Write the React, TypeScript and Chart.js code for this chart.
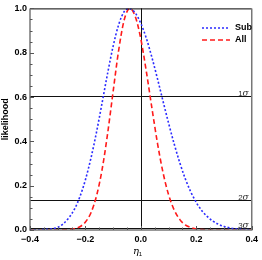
import React, { useEffect, useRef } from "react";
import { Chart, registerables } from "chart.js";
Chart.register(...registerables);

const eta = [-0.4, -0.38, -0.36, -0.34, -0.32, -0.3, -0.28, -0.26, -0.24, -0.22, -0.2, -0.18, -0.16, -0.14, -0.12, -0.1, -0.08, -0.06, -0.04, -0.02, 0, 0.02, 0.04, 0.06, 0.08, 0.1, 0.12, 0.14, 0.16, 0.18, 0.2, 0.22, 0.24, 0.26, 0.28, 0.3, 0.32, 0.34, 0.36, 0.38, 0.4];
const subLikelihood = [0.0002, 0.0005, 0.0013, 0.003, 0.006, 0.012, 0.028, 0.055, 0.093, 0.15, 0.227, 0.325, 0.442, 0.573, 0.707, 0.83, 0.927, 0.986, 0.999, 0.979, 0.932, 0.864, 0.778, 0.682, 0.581, 0.482, 0.389, 0.305, 0.232, 0.172, 0.124, 0.087, 0.06, 0.04, 0.026, 0.016, 0.0098, 0.0058, 0.0034, 0.0019, 0.001];
const allLikelihood = [0, 0, 0, 0, 0.0001, 0.0002, 0.0006, 0.0018, 0.0055, 0.0148, 0.036, 0.078, 0.154, 0.272, 0.435, 0.626, 0.812, 0.949, 1.0, 0.963, 0.861, 0.713, 0.549, 0.391, 0.259, 0.159, 0.091, 0.048, 0.023, 0.011, 0.0045, 0.0018, 0.0006, 0.0002, 0.0001, 0, 0, 0, 0, 0, 0];
const seriesNames = ["Sub", "All"];
const sigmaLevels = [0.6065, 0.1353, 0.0111];
const sigmaLabels = ["1", "2", "3"];
const xMinorTicks = [-0.4, -0.35, -0.3, -0.25, -0.2, -0.15, -0.1, -0.05, 0, 0.05, 0.1, 0.15, 0.2, 0.25, 0.3, 0.35, 0.4];
const yMinorTicks = [0, 0.05, 0.1, 0.15, 0.2, 0.25, 0.3, 0.35, 0.4, 0.45, 0.5, 0.55, 0.6, 0.65, 0.7, 0.75, 0.8, 0.85, 0.9, 0.95, 1.0];

const FONT = "'Liberation Sans', Arial, sans-serif";
const BLUE = "#2b2bff";
const RED = "#ff1a1a";

const fmt = (v: number) => {
  const s = Math.abs(v).toFixed(1);
  return v < -1e-9 ? "\u2212" + s : s;
};

const isMajor = (v: number) => Math.abs(v * 5 - Math.round(v * 5)) < 1e-6;

const decorPlugin = {
  id: "decor",
  beforeDatasetsDraw(chart: any) {
    const { ctx, chartArea: a, scales } = chart;
    const xs = scales.x;
    const ys = scales.y;
    ctx.save();
    ctx.strokeStyle = "#111";
    ctx.lineWidth = 1;
    sigmaLevels.forEach((lv, i) => {
      const y = Math.round(ys.getPixelForValue(lv)) + 0.5;
      ctx.beginPath();
      ctx.moveTo(a.left, y);
      ctx.lineTo(a.right, y);
      ctx.stroke();
      ctx.fillStyle = "#333";
      ctx.textBaseline = "alphabetic";
      ctx.textAlign = "right";
      ctx.font = "italic 9px 'DejaVu Serif', serif";
      const sw = ctx.measureText("\u03c3").width;
      ctx.fillText("\u03c3", a.right - 3, y - 1);
      ctx.font = "8px " + FONT;
      ctx.fillText(sigmaLabels[i], a.right - 3 - sw, y - 1);
    });
    const x0 = Math.round(xs.getPixelForValue(0)) + 0.5;
    ctx.beginPath();
    ctx.moveTo(x0, a.top);
    ctx.lineTo(x0, a.bottom);
    ctx.stroke();
    ctx.restore();
  },
  afterDraw(chart: any) {
    const { ctx, chartArea: a, scales } = chart;
    const xs = scales.x;
    const ys = scales.y;
    ctx.save();
    ctx.strokeStyle = "#000";
    ctx.lineWidth = 1;
    ctx.beginPath();
    ctx.moveTo(a.left, a.top + 0.5);
    ctx.lineTo(a.right, a.top + 0.5);
    ctx.stroke();
    ctx.strokeStyle = "#777";
    ctx.lineWidth = 1.5;
    ctx.beginPath();
    ctx.moveTo(a.left, a.top);
    ctx.lineTo(a.left, a.bottom);
    ctx.lineTo(a.right, a.bottom);
    ctx.lineTo(a.right, a.top);
    ctx.stroke();
    ctx.strokeStyle = "#555";
    ctx.lineWidth = 1;
    xMinorTicks.forEach((v) => {
      const x = Math.round(xs.getPixelForValue(v)) + 0.5;
      const len = isMajor(v) ? 4 : 2.5;
      ctx.beginPath();
      ctx.moveTo(x, a.bottom);
      ctx.lineTo(x, a.bottom - len);
      ctx.stroke();
    });
    yMinorTicks.forEach((v) => {
      const y = Math.round(ys.getPixelForValue(v)) + 0.5;
      const len = isMajor(v) ? 4 : 2.5;
      ctx.beginPath();
      ctx.moveTo(a.left, y);
      ctx.lineTo(a.left + len, y);
      ctx.stroke();
    });
    ctx.fillStyle = "#000";
    ctx.font = "bold 9px " + FONT;
    ctx.textAlign = "center";
    ctx.textBaseline = "middle";
    ctx.save();
    ctx.translate(6, (a.top + a.bottom) / 2);
    ctx.rotate(-Math.PI / 2);
    ctx.fillText("likelihood", 0, 0);
    ctx.restore();
    const cx = (a.left + a.right) / 2;
    ctx.font = "italic 10px 'DejaVu Serif', serif";
    ctx.textAlign = "right";
    ctx.textBaseline = "alphabetic";
    ctx.fillText("\u03b7", cx - 2, 254);
    ctx.font = "6px " + FONT;
    ctx.textAlign = "left";
    ctx.fillText("1", cx - 2, 256);
    const ds = chart.data.datasets;
    const lx0 = 202, lx1 = 230;
    [28, 40].forEach((ly, i) => {
      ctx.strokeStyle = ds[i].borderColor;
      ctx.lineWidth = 1.5;
      ctx.setLineDash(ds[i].borderDash);
      ctx.beginPath();
      ctx.moveTo(lx0, ly);
      ctx.lineTo(lx1, ly);
      ctx.stroke();
      ctx.setLineDash([]);
      ctx.fillStyle = "#000";
      ctx.font = "bold 9px " + FONT;
      ctx.textAlign = "left";
      ctx.textBaseline = "middle";
      ctx.fillText(seriesNames[i], 235, ly);
    });
    ctx.restore();
  },
};

export default function App() {
  const ref = useRef<HTMLCanvasElement>(null);
  useEffect(() => {
    if (!ref.current) return;
    const chart = new Chart(ref.current, {
      type: "line",
      data: {
        datasets: [
          {
            label: seriesNames[0],
            data: eta.map((x, i) => ({ x, y: subLikelihood[i] })),
            borderColor: BLUE,
            borderWidth: 1.6,
            borderDash: [2, 2],
            pointRadius: 0,
            cubicInterpolationMode: "monotone",
            fill: false,
          },
          {
            label: seriesNames[1],
            data: eta.map((x, i) => ({ x, y: allLikelihood[i] })),
            borderColor: RED,
            borderWidth: 1.6,
            borderDash: [5, 3],
            pointRadius: 0,
            cubicInterpolationMode: "monotone",
            fill: false,
          },
        ],
      },
      options: {
        animation: false,
        responsive: false,
        maintainAspectRatio: false,
        layout: { padding: { top: 5, right: 7, left: 0, bottom: 0 } },
        plugins: { legend: { display: false }, tooltip: { enabled: false } },
        scales: {
          x: {
            type: "linear",
            min: -0.4,
            max: 0.4,
            grid: { display: false, drawTicks: false },
            border: { display: false },
            ticks: {
              stepSize: 0.2,
              autoSkip: false,
              maxRotation: 0,
              padding: 4,
              color: "#000",
              font: { family: FONT, size: 9, weight: "bold" },
              callback: (v: any) => fmt(Number(v)),
            },
            afterFit: (s: any) => {
              s.height = 30;
            },
          },
          y: {
            type: "linear",
            min: 0,
            max: 1,
            grid: { display: false, drawTicks: false },
            border: { display: false },
            ticks: {
              stepSize: 0.2,
              padding: 3,
              color: "#000",
              font: { family: FONT, size: 9, weight: "bold" },
              callback: (v: any) => fmt(Number(v)),
            },
            afterFit: (s: any) => {
              s.width = 30;
            },
          },
        },
      },
      plugins: [decorPlugin],
    } as any);
    return () => chart.destroy();
  }, []);
  return (
    <div style={{ position: "absolute", left: 0, top: 0, width: 262, height: 260 }}>
      <canvas ref={ref} width={262} height={260} style={{ width: 262, height: 260 }} />
    </div>
  );
}
